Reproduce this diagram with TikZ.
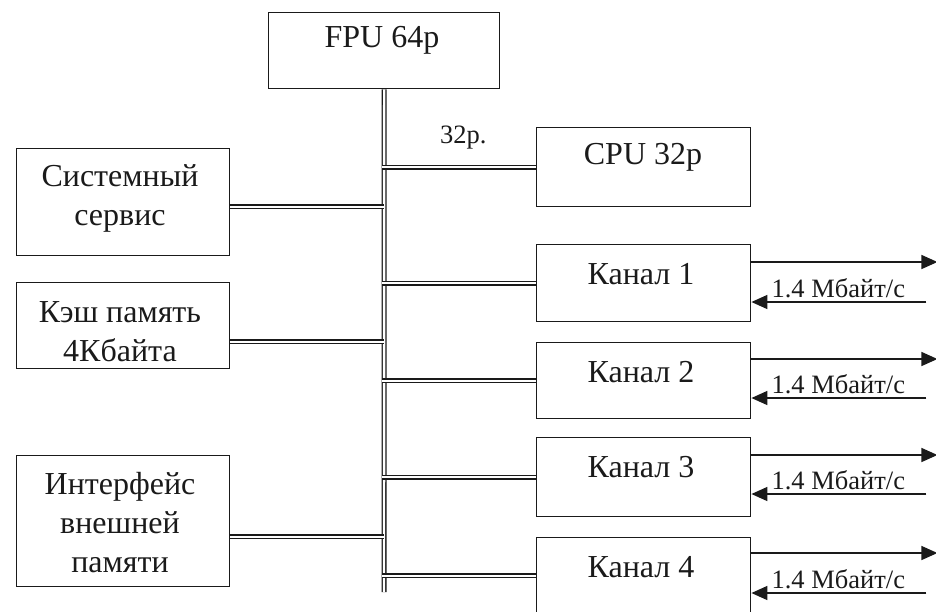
\documentclass[tikz,border=0pt]{standalone}
\usepackage{fontspec}
\setmainfont{Liberation Serif}
\usetikzlibrary{arrows.meta,calc}
\definecolor{ink}{HTML}{1A1A1A}
\tikzset{
  blk/.style={draw=ink, line width=1.4pt, rectangle, inner sep=0pt, anchor=north west},
  txt/.style={font=\fontsize{32}{39}\selectfont, text=ink, align=center, inner sep=0pt},
  small/.style={font=\fontsize{26.5}{30}\selectfont, text=ink, inner sep=0pt},
  dbl/.style={draw=ink, line width=1.3pt, double=white, double distance=2.4pt},
  flow/.style={draw=ink, line width=1.5pt, -{Triangle[length=16pt,width=14pt]}}
}
\begin{document}
\begin{tikzpicture}[x=1pt,y=-1pt]
\useasboundingbox (0,0) rectangle (936,611);
% boxes
\node[blk, minimum width=231pt, minimum height=76pt] (fpu) at (268,12) {};
\node[blk, minimum width=214pt, minimum height=79pt] (cpu) at (536,127) {};
\node[blk, minimum width=213pt, minimum height=107pt] (sys) at (16,148) {};
\node[blk, minimum width=213pt, minimum height=86pt] (cache) at (16,282) {};
\node[blk, minimum width=213pt, minimum height=131pt] (ifc) at (16,455) {};
\node[blk, minimum width=214pt, minimum height=77pt] (k1) at (536,244) {};
\node[blk, minimum width=214pt, minimum height=76pt] (k2) at (536,342) {};
\node[blk, minimum width=214pt, minimum height=79pt] (k3) at (536,437) {};
\node[blk, minimum width=214pt, minimum height=76pt] (k4) at (536,537) {};
% texts
\node[txt] (tfpu) at (382,40) {FPU 64p};
\node[txt] (tcpu) at (643,157) {CPU 32p};
\node[txt] (tsys) at (120,198) {Системный\\сервис};
\node[txt] (tcache) at (120,332) {Кэш память\\4Кбайта};
\node[txt] (tifc) at (120,523) {Интерфейс\\внешней\\памяти};
\node[txt] (tk1) at (641,274) {Канал 1};
\node[txt] (tk2) at (641,372) {Канал 2};
\node[txt] (tk3) at (641,467) {Канал 3};
\node[txt] (tk4) at (641,567) {Канал 4};
\node[small, anchor=base west] (t32) at (440,143) {32p.};
% bus
\coordinate (bb) at (384,592);
\draw[dbl] (fpu.south) -- (bb);
% connectors to the bus
\coordinate (ysys) at ($(sys.east)+(0,4.5)$);
\coordinate (ycache) at ($(cache.east)+(0,16)$);
\coordinate (yifc) at ($(ifc.east)+(0,15.5)$);
\foreach \c in {ysys,ycache,yifc}{
  \draw[dbl] (\c) -- (\c -| bb);
}
\foreach \b in {cpu,k1,k2,k3,k4}{
  \coordinate (\b bus) at ($(\b.west -| bb)+(-2,0)$);
  \draw[dbl] (\b bus) -- (\b.west);
}
% channel data flows
\foreach \b/\o/\i in {k1/18/58,k2/17/56,k3/18/57,k4/16/56}{
  \coordinate (\b out) at ($(\b.north east)+(186,\o)$);
  \coordinate (\b in) at ($(\b.north east)+(175,\i)$);
  \coordinate (\b outs) at ($(\b.north east)+(0,\o)$);
  \coordinate (\b ins) at ($(\b.north east)+(0,\i)$);
  \draw[flow] (\b outs) -- (\b out);
  \draw[flow] (\b in) -- (\b ins);
  \node[small, anchor=base west] (\b lab) at ($(\b ins)+(20,-5)$) {1.4 Мбайт/с};
}
\end{tikzpicture}
\end{document}
